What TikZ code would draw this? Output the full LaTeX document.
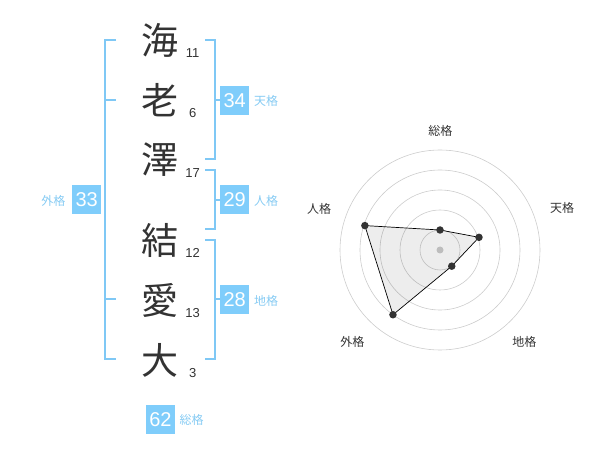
\documentclass[tikz,border=0pt]{standalone}
\usepackage{fontspec}
\setmainfont{Liberation Sans}
\newfontfamily\jp{Noto Sans CJK JP}
\definecolor{boxblue}{HTML}{7FCDFB}
\definecolor{lblblue}{HTML}{86CBF3}
\definecolor{brk}{HTML}{7FC8F5}
\definecolor{ink}{HTML}{333333}
\definecolor{ring}{HTML}{CCCCCC}
\begin{document}
\begin{tikzpicture}[x=1pt,y=-1pt,
  kanji/.style={font=\jp\fontsize{37}{37}\selectfont, text=ink, inner sep=0pt},
  strokes/.style={font=\fontsize{13}{13}\selectfont, text=ink, inner sep=0pt},
  numbox/.style={fill=boxblue, text=white, minimum width=29, minimum height=29, inner sep=0pt, font=\fontsize{20}{20}\selectfont},
  kaku/.style={font=\jp\fontsize{12}{12}\selectfont, text=lblblue, inner sep=0pt},
  bracket/.style={draw=brk, line width=2pt},
  axislbl/.style={font=\jp\fontsize{12}{12}\selectfont, text=ink, inner sep=0pt},
  ringline/.style={draw=ring, line width=0.6pt},
  dot/.style={circle, fill=ink, inner sep=0pt, minimum size=7.5}
]
\useasboundingbox (0,0) rectangle (600,470);
% characters
\node[kanji] (c1) at (160,40) {海};
\node[kanji] (c2) at (160,100) {老};
\node[kanji] (c3) at (160,160) {澤};
\node[kanji] (c4) at (160,240) {結};
\node[kanji] (c5) at (160,300) {愛};
\node[kanji] (c6) at (160,360) {大};
\node[strokes] (s1) at (192.7,53) {11};
\node[strokes] (s2) at (192.7,113) {6};
\node[strokes] (s3) at (192.7,173) {17};
\node[strokes] (s4) at (192.7,253) {12};
\node[strokes] (s5) at (192.7,313) {13};
\node[strokes] (s6) at (192.7,373) {3};
% outer bracket (gaikaku)
\draw[bracket] (116,40) -- (105,40) -- (105,359.5) -- (116,359.5);
\draw[bracket] (105,100) -- (116,100);
\draw[bracket] (105,299.5) -- (116,299.5);
\node[numbox] (b33) at (86.7,200) {33};
\node[kaku] (l33) at (53.5,200.5) {外格};
% tenkaku
\draw[bracket] (205,40) -- (214.5,40) -- (214.5,159.5) -- (205,159.5);
\draw[bracket] (214.5,100) -- (220,100);
\node[numbox] (b34) at (234.7,100.3) {34};
\node[kaku] (l34) at (266,100.8) {天格};
% jinkaku
\draw[bracket] (205,170) -- (214.5,170) -- (214.5,229.5) -- (205,229.5);
\draw[bracket] (214.5,200) -- (220,200);
\node[numbox] (b29) at (234.7,200) {29};
\node[kaku] (l29) at (266,200.5) {人格};
% chikaku
\draw[bracket] (205,240) -- (214.5,240) -- (214.5,359.5) -- (205,359.5);
\draw[bracket] (214.5,299.5) -- (220,299.5);
\node[numbox] (b28) at (234.7,300) {28};
\node[kaku] (l28) at (266,300.5) {地格};
% soukaku
\node[numbox] (b62) at (160.5,419.3) {62};
\node[kaku] (l62) at (191.5,420) {総格};
% radar chart
\coordinate (ctr) at (440,250);
\foreach \r in {20,40,60,80,100} \draw[ringline] (ctr) circle[radius=\r];
\fill[ring] (ctr) circle[radius=3.5];
\path (ctr) ++(0,-20) coordinate (pS);
\path (ctr) ++(-18:41) coordinate (pT);
\path (ctr) ++(54:20) coordinate (pC);
\path (ctr) ++(126:80) coordinate (pG);
\path (ctr) ++(198:79) coordinate (pJ);
\path[fill=black, fill opacity=0.07] (pS) -- (pT) -- (pC) -- (pG) -- (pJ) -- cycle;
\draw[black, line width=0.7pt] (pS) -- (pT) -- (pC) -- (pG) -- (pJ) -- cycle;
\foreach \p/\n in {pS/dS,pT/dT,pC/dC,pG/dG,pJ/dJ} \node[dot] (\n) at (\p) {};
\node[axislbl] (aS) at (440.3,130.7) {総格};
\node[axislbl] (aT) at (562,208) {天格};
\node[axislbl] (aC) at (524.3,341.7) {地格};
\node[axislbl] (aG) at (352.3,341.7) {外格};
\node[axislbl] (aJ) at (319,209) {人格};
\end{tikzpicture}
\end{document}
